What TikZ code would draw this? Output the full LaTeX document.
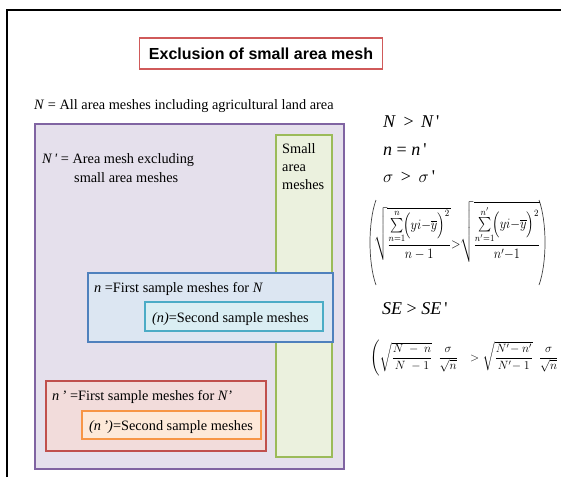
\documentclass[tikz,border=0pt]{standalone}
\usepackage{amsmath}
\usepackage{graphicx}
\usepackage{fontspec}
\setmainfont{Liberation Serif}
\newfontfamily\titlefont{Liberation Sans}
\definecolor{purpleB}{HTML}{8064A2}\definecolor{purpleF}{HTML}{E5E0EC}
\definecolor{greenB}{HTML}{9BBB59}\definecolor{greenF}{HTML}{EBF1DE}
\definecolor{blueB}{HTML}{4F81BD}\definecolor{blueF}{HTML}{DCE6F2}
\definecolor{cyanB}{HTML}{4BACC6}\definecolor{cyanF}{HTML}{DAEEF3}
\definecolor{redB}{HTML}{C0504D}\definecolor{redF}{HTML}{F2DCDB}
\definecolor{orangeB}{HTML}{F79646}\definecolor{orangeF}{HTML}{FDE9D9}
\definecolor{titleB}{HTML}{D05A5A}
\newcommand{\sq}{\textquotesingle}
\begin{document}
\begin{tikzpicture}[x=1pt,y=-1pt,
  areabox/.style={line width=1.3pt},
  lbl/.style={anchor=base west,inner sep=0pt,font=\fontsize{14.3}{17}\selectfont},
  eq/.style={anchor=base west,inner sep=0pt,font=\fontsize{18}{21}\selectfont},
  bigparen/.style={draw=black!75,line width=0.7pt}]
\useasboundingbox (0,0) rectangle (561,477);
\begin{scope}
\clip (0,0) rectangle (561,477);
% frame
\draw[line width=1.8pt,black] (7,477) -- (7,10) -- (561,10);
% title
\node[draw=titleB,line width=1.2pt,fill=white,minimum width=243pt,minimum height=31pt,inner sep=0pt,
  font=\titlefont\bfseries\fontsize{16}{19}\selectfont] (title) at (261,53.5) {Exclusion of small area mesh};
\node[lbl] (Nlbl) at (34,109) {\textit{N} = All area meshes including agricultural land area};
% boxes
\path[areabox,draw=purpleB,fill=purpleF] (35,124) rectangle (344,469);
\path[areabox,draw=greenB,fill=greenF] (276,135) rectangle (332,457);
\path[areabox,draw=blueB,fill=blueF] (88,273) rectangle (333,342);
\path[areabox,draw=cyanB,fill=cyanF] (145,302) rectangle (323,331);
\path[areabox,draw=redB,fill=redF] (46,381) rectangle (266,451);
\path[areabox,draw=orangeB,fill=orangeF] (82,411) rectangle (261,439);
% texts in boxes
\node[lbl] (Np1) at (42,163) {\textit{N\,\sq} = Area mesh excluding};
\node[lbl] (Np2) at (74,182) {small area meshes};
\node[lbl] (sm1) at (282,153) {Small};
\node[lbl] (sm2) at (282,171) {area};
\node[lbl] (sm3) at (282,189) {meshes};
\node[lbl] (nfirst) at (94,292) {\textit{n} =First sample meshes for \textit{N}};
\node[lbl] (nsecond) at (152,322) {\textit{(n)}=Second sample meshes};
\node[lbl] (npfirst) at (52,400) {\textit{n\,'} =First sample meshes for \textit{N'}};
\node[lbl] (npsecond) at (89,430) {\textit{(n\,')}=Second sample meshes};
% right formulas
\node[eq] (e1) at (383,127) {\textit{N} \,>\, \textit{N\,}\sq};
\node[eq] (e2) at (383,155) {\textit{n} = \textit{n\,}\sq};
\node[eq] (e3) at (383,182) {$\sigma$ \,>\, $\sigma$\,\sq};
\draw[bigparen] (376,200) .. controls (368,222) and (368,263) .. (376,285);
\draw[bigparen] (539,200) .. controls (547,222) and (547,263) .. (539,285);
\node[anchor=west,inner sep=0pt,font=\fontsize{12}{14}\selectfont] (e4) at (374,232)
  {\resizebox*{166pt}{61pt}{$\sqrt{\dfrac{\sum\limits_{n=1}^{n}\!\Bigl(yi{-}\overline{y}\Bigr)^{2}}{n-1}}{>}\sqrt{\dfrac{\sum\limits_{n'=1}^{n'}\!\Bigl(yi{-}\overline{y}\Bigr)^{2}}{n'{-}1}}$}};
\node[eq] (e5) at (382,314) {\textit{SE} > \textit{SE}\,\sq};
\node[anchor=west,inner sep=0pt,font=\fontsize{12}{14}\selectfont] (e6) at (370,358)
  {$\left(\rule[-13pt]{0pt}{29pt}\sqrt{\dfrac{N\ -\ n}{N\ -1}}\ \ \dfrac{\sigma}{\sqrt{n}}\ \ \ >\sqrt{\dfrac{N'\!-n'}{N'\!-1}}\ \ \dfrac{\sigma}{\sqrt{n}}\ \ \ \ \right)$};
\end{scope}
\end{tikzpicture}
\end{document}
